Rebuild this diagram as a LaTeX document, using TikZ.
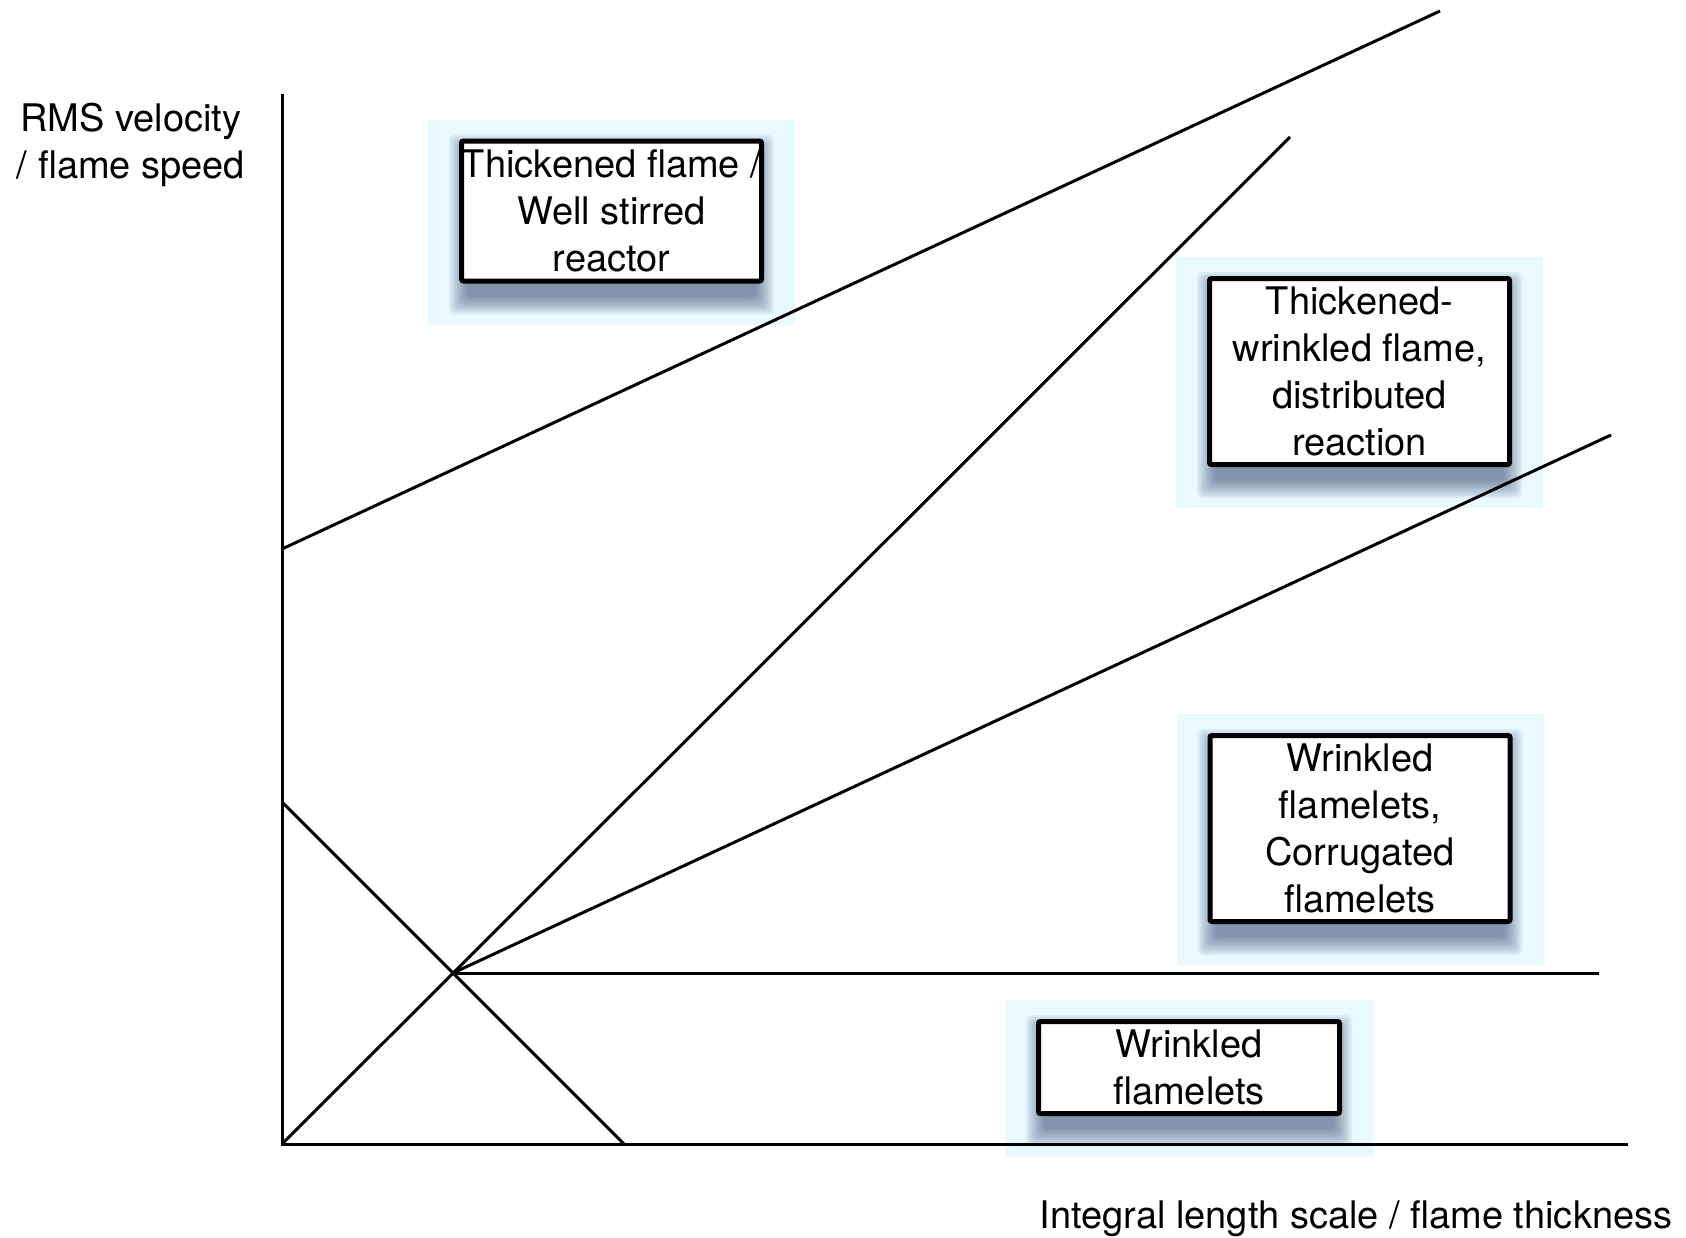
\documentclass[tikz,border=0pt]{standalone}
\usepackage{fontspec}
\setmainfont{TeX Gyre Heros}
\usetikzlibrary{calc}
\pgfdeclarelayer{glow}
\pgfdeclarelayer{shade}
\pgfsetlayers{glow,shade,main}
\definecolor{glowcol}{RGB}{232,250,255}
\definecolor{shadecol}{RGB}{35,50,95}

% pale pad behind a regime box
\newcommand\glowpad[1]{%
  \begin{pgfonlayer}{glow}
    \fill[glowcol] ($(#1.north west)+(-31,-19)$) rectangle ($(#1.south east)+(31,41)$);
  \end{pgfonlayer}}
% soft drop shadow under a regime box
\newcommand\castshadow[1]{%
  \begin{pgfonlayer}{shade}
    \foreach \r in {0,2,...,18}{
      \fill[shadecol, fill opacity=0.065, rounded corners=5pt]
        ($(#1.north west)+(8-\r,14-\r)$) rectangle ($(#1.south east)+(\r-8,13+\r)$);
    }
  \end{pgfonlayer}}

\begin{document}
\begin{tikzpicture}[x=1pt,y=-1pt,
  lbl/.style={font=\fontsize{38}{47}\selectfont, align=center, inner sep=0pt},
  regime/.style 2 args={lbl, draw, line width=5pt, fill=white, rounded corners=2pt,
    minimum width=#1, minimum height=#2},
  rule/.style={line width=3pt, line join=miter}]

\begin{pgfonlayer}{glow}
  \fill[white] (0,0) rectangle (1686,1237);
\end{pgfonlayer}
\useasboundingbox (0,0) rectangle (1686,1237);

% axes and regime boundaries
\coordinate (Ytop) at (282,94);
\coordinate (O) at (282,1144);
\coordinate (Xend) at (1628,1144);
\coordinate (P) at (453,973);
\coordinate (A) at (282,549);
\coordinate (Aend) at (1440,11);
\coordinate (Bend) at (1290,137);
\coordinate (Cend) at (1611,435);
\coordinate (Dend) at (1599,973);
\coordinate (E) at (282,802);
\coordinate (Eend) at (624,1144);

\draw[rule] (Ytop) -- (O) -- (Xend);
\draw[rule] (O) -- (Bend);
\draw[rule] (E) -- (Eend);
\draw[rule] (A) -- (Aend);
\draw[rule] (P) -- (Cend);
\draw[rule] (P) -- (Dend);

% regime boxes
\node[regime={300pt}{140pt}] (b1) at (611.5,211) {Thickened flame /\\Well stirred\\reactor};
\node[regime={300pt}{186pt}] (b2) at (1359.5,371.5) {Thickened-\\wrinkled flame,\\distributed\\reaction};
\node[regime={300pt}{186pt}] (b3) at (1360,828.5) {Wrinkled\\flamelets,\\Corrugated\\flamelets};
\node[regime={301pt}{92pt}] (b4) at (1189,1067.5) {Wrinkled\\flamelets};

\foreach \b in {b1,b2,b3,b4}{\glowpad{\b}\castshadow{\b}}

% axis labels
\node[lbl] (ylab) at (131,145) {RMS velocity\\/ flame speed};
\node[lbl, anchor=base] (xlab) at (1356,1228) {Integral length scale / flame thickness};
\end{tikzpicture}
\end{document}
